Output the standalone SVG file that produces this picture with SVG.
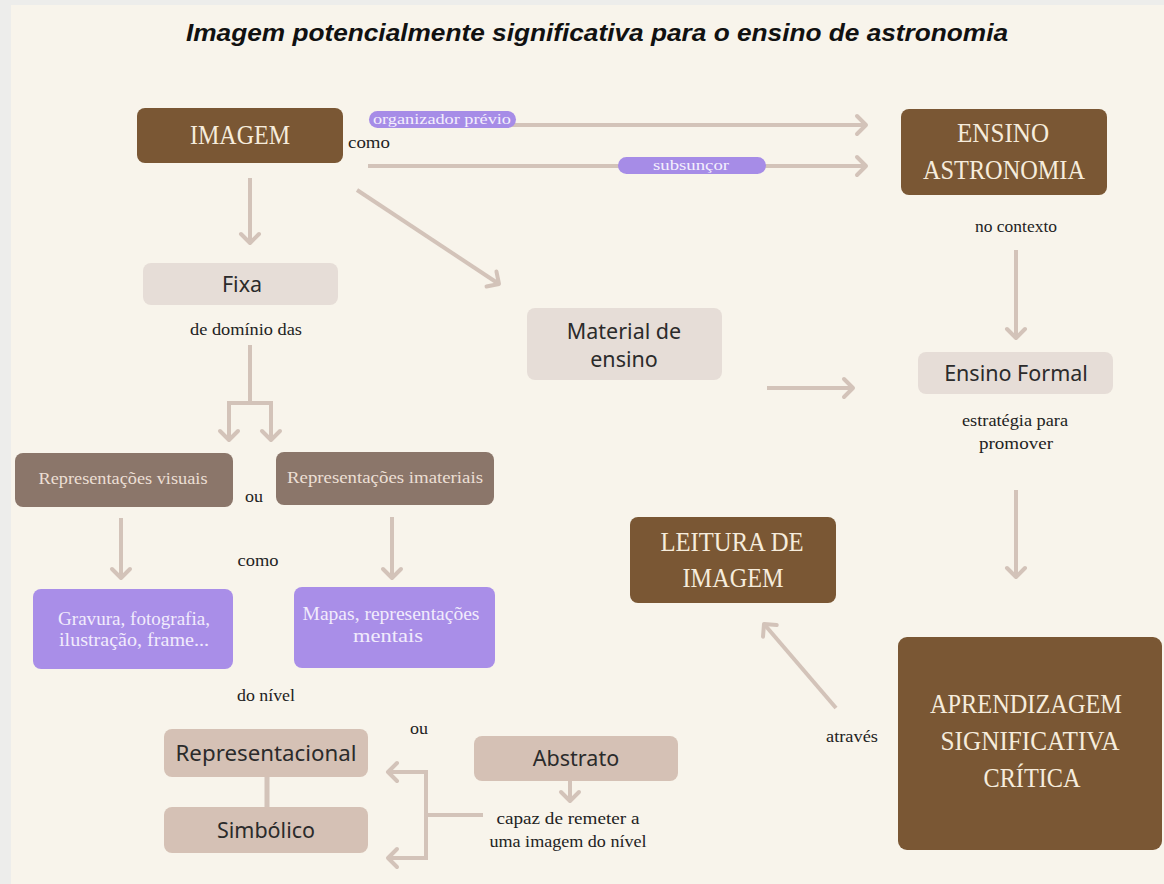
<svg xmlns="http://www.w3.org/2000/svg" width="1164" height="884" viewBox="0 0 1164 884">
<defs>
<marker id="ah" markerWidth="24" markerHeight="24" viewBox="-12 -12 24 24" refX="0" refY="0" orient="auto" markerUnits="userSpaceOnUse">
<path d="M-9,-9 L0,0 L-9,9" fill="none" stroke="#d3c3b9" stroke-width="4" stroke-linecap="round" stroke-linejoin="round"/>
</marker>
</defs>
<style>
.bg{fill:#ededeb}
.panel{fill:#f8f4eb}
.dark{fill:#7a5734}
.taupe{fill:#8b766a}
.lite{fill:#e6ddd7}
.mid{fill:#d5c1b5}
.purp{fill:#a98ee8}
.pill{fill:#a68ce7}
.c{fill:none;stroke:#d3c3b9;stroke-width:4}
.ca{fill:none;stroke:#d3c3b9;stroke-width:4;marker-end:url(#ah)}
.title{font-family:"Liberation Sans",Arial,sans-serif;font-weight:bold;font-style:italic;font-size:24px;fill:#111}
.big{font-family:"Liberation Serif","Times New Roman",serif;font-size:27px;fill:#f6ecdc;text-anchor:middle}
.sans{font-family:"Noto Sans","Liberation Sans",sans-serif;font-size:21.5px;fill:#2b2b2b;text-anchor:middle}
.lbl{font-family:"Liberation Serif","Times New Roman",serif;font-size:17px;fill:#222;text-anchor:middle}
.rep{font-family:"Liberation Serif","Times New Roman",serif;font-size:16.5px;fill:#ecdfd4;text-anchor:middle}
.pt{font-family:"Liberation Serif","Times New Roman",serif;font-size:18px;fill:#f1ebfc;text-anchor:middle}
.pl{font-family:"Liberation Serif","Times New Roman",serif;font-size:15.5px;fill:#f4effd;text-anchor:middle}
</style>
<rect class="bg" x="0" y="0" width="1164" height="884"/>
<rect class="panel" x="11" y="5" width="1153" height="879"/>
<text class="title" x="597" y="41" text-anchor="middle" textLength="822" lengthAdjust="spacingAndGlyphs">Imagem potencialmente significativa para o ensino de astronomia</text>

<g id="connectors">
<line class="ca" x1="400" y1="125" x2="866" y2="125"/>
<line class="ca" x1="368" y1="166" x2="866" y2="166"/>
<line class="ca" x1="250" y1="178" x2="250" y2="243"/>
<line class="ca" x1="357" y1="190" x2="499" y2="284"/>
<line class="ca" x1="1016" y1="250" x2="1016" y2="338"/>
<line class="ca" x1="767" y1="388" x2="853" y2="388"/>
<line class="ca" x1="1016" y1="490" x2="1016" y2="577"/>
<line class="ca" x1="836" y1="708" x2="764" y2="624"/>
<path class="c" d="M250,345 V403 M227,403 H273"/>
<line class="ca" x1="229" y1="401" x2="229" y2="440"/>
<line class="ca" x1="271" y1="401" x2="271" y2="440"/>
<line class="ca" x1="121" y1="518" x2="121" y2="578"/>
<line class="ca" x1="392" y1="517" x2="392" y2="578"/>
<line class="c" x1="267" y1="777" x2="267" y2="807" style="stroke-width:5"/>
<line class="ca" x1="570" y1="781" x2="570" y2="801"/>
<path class="c" d="M483,815 H426 M426,770 V860"/>
<line class="ca" x1="428" y1="772" x2="388" y2="772"/>
<line class="ca" x1="428" y1="858" x2="388" y2="858"/>
</g>

<g id="pill-organizador">
<rect class="pill" x="369" y="111" width="147" height="17" rx="8.5"/>
<text class="pl" x="442" y="124" textLength="138" lengthAdjust="spacingAndGlyphs">organizador prévio</text>
</g>
<g id="pill-subsuncor">
<rect class="pill" x="618" y="157" width="148" height="17" rx="8.5"/>
<text class="pl" x="691" y="170" textLength="76" lengthAdjust="spacingAndGlyphs">subsunçor</text>
</g>

<g id="n-imagem">
<rect class="dark" x="137" y="108" width="206" height="55" rx="8"/>
<text class="big" x="240" y="144" textLength="100" lengthAdjust="spacingAndGlyphs">IMAGEM</text>
</g>
<text class="lbl" x="369" y="148" textLength="42" lengthAdjust="spacingAndGlyphs">como</text>

<g id="n-ensino-astronomia">
<rect class="dark" x="901" y="109" width="206" height="86" rx="8"/>
<text class="big" x="1003" y="142" textLength="92" lengthAdjust="spacingAndGlyphs">ENSINO</text>
<text class="big" x="1004" y="179" textLength="162" lengthAdjust="spacingAndGlyphs">ASTRONOMIA</text>
</g>
<text class="lbl" x="1016" y="232" textLength="82" lengthAdjust="spacingAndGlyphs">no contexto</text>

<g id="n-fixa">
<rect class="lite" x="143" y="263" width="195" height="42" rx="8"/>
<text class="sans" x="242" y="292">Fixa</text>
</g>
<text class="lbl" x="246" y="335" textLength="112" lengthAdjust="spacingAndGlyphs">de domínio das</text>

<g id="n-material">
<rect class="lite" x="527" y="308" width="195" height="72" rx="8"/>
<text class="sans" x="624" y="339">Material de</text>
<text class="sans" x="624" y="367">ensino</text>
</g>

<g id="n-ensino-formal">
<rect class="lite" x="918" y="352" width="195" height="42" rx="8"/>
<text class="sans" x="1016" y="381">Ensino Formal</text>
</g>
<text class="lbl" x="1015" y="426" textLength="106" lengthAdjust="spacingAndGlyphs">estratégia para</text>
<text class="lbl" x="1016" y="449" textLength="74" lengthAdjust="spacingAndGlyphs">promover</text>

<g id="n-rep-visuais">
<rect class="taupe" x="15" y="453" width="218" height="54" rx="8"/>
<text class="rep" x="123" y="484" textLength="169" lengthAdjust="spacingAndGlyphs">Representações visuais</text>
</g>
<text class="lbl" x="254" y="502" textLength="18" lengthAdjust="spacingAndGlyphs">ou</text>
<g id="n-rep-imateriais">
<rect class="taupe" x="276" y="452" width="218" height="53" rx="8"/>
<text class="rep" x="385" y="483" textLength="196" lengthAdjust="spacingAndGlyphs">Representações imateriais</text>
</g>
<text class="lbl" x="258" y="566" textLength="41" lengthAdjust="spacingAndGlyphs">como</text>

<g id="n-gravura">
<rect class="purp" x="33" y="589" width="200" height="80" rx="8"/>
<text class="pt" x="134" y="625" textLength="152" lengthAdjust="spacingAndGlyphs">Gravura, fotografia,</text>
<text class="pt" x="134" y="646" textLength="150" lengthAdjust="spacingAndGlyphs">ilustração, frame...</text>
</g>
<g id="n-mapas">
<rect class="purp" x="294" y="587" width="201" height="81" rx="8"/>
<text class="pt" x="391" y="620" textLength="177" lengthAdjust="spacingAndGlyphs">Mapas, representações</text>
<text class="pt" x="388" y="642" textLength="70" lengthAdjust="spacingAndGlyphs">mentais</text>
</g>
<text class="lbl" x="266" y="701" textLength="58" lengthAdjust="spacingAndGlyphs">do nível</text>
<text class="lbl" x="419" y="734" textLength="18" lengthAdjust="spacingAndGlyphs">ou</text>

<g id="n-representacional">
<rect class="mid" x="164" y="729" width="204" height="48" rx="8"/>
<text class="sans" x="266" y="761" textLength="181" lengthAdjust="spacingAndGlyphs">Representacional</text>
</g>
<g id="n-simbolico">
<rect class="mid" x="164" y="807" width="204" height="46" rx="8"/>
<text class="sans" x="266" y="838">Simbólico</text>
</g>
<g id="n-abstrato">
<rect class="mid" x="474" y="736" width="204" height="45" rx="8"/>
<text class="sans" x="576" y="766">Abstrato</text>
</g>
<text class="lbl" x="568" y="824" textLength="143" lengthAdjust="spacingAndGlyphs">capaz de remeter a</text>
<text class="lbl" x="568" y="847" textLength="157" lengthAdjust="spacingAndGlyphs">uma imagem do nível</text>

<g id="n-leitura">
<rect class="dark" x="630" y="517" width="206" height="86" rx="8"/>
<text class="big" x="732" y="551" textLength="143" lengthAdjust="spacingAndGlyphs">LEITURA DE</text>
<text class="big" x="733" y="587" textLength="101" lengthAdjust="spacingAndGlyphs">IMAGEM</text>
</g>
<text class="lbl" x="852" y="742" textLength="52" lengthAdjust="spacingAndGlyphs">através</text>

<g id="n-aprendizagem">
<rect class="dark" x="898" y="637" width="264" height="213" rx="9"/>
<text class="big" x="1026" y="713" textLength="192" lengthAdjust="spacingAndGlyphs" style="font-size:28px">APRENDIZAGEM</text>
<text class="big" x="1030" y="750" textLength="179" lengthAdjust="spacingAndGlyphs" style="font-size:28px">SIGNIFICATIVA</text>
<text class="big" x="1032" y="787" textLength="97" lengthAdjust="spacingAndGlyphs" style="font-size:28px">CRÍTICA</text>
</g>
</svg>
